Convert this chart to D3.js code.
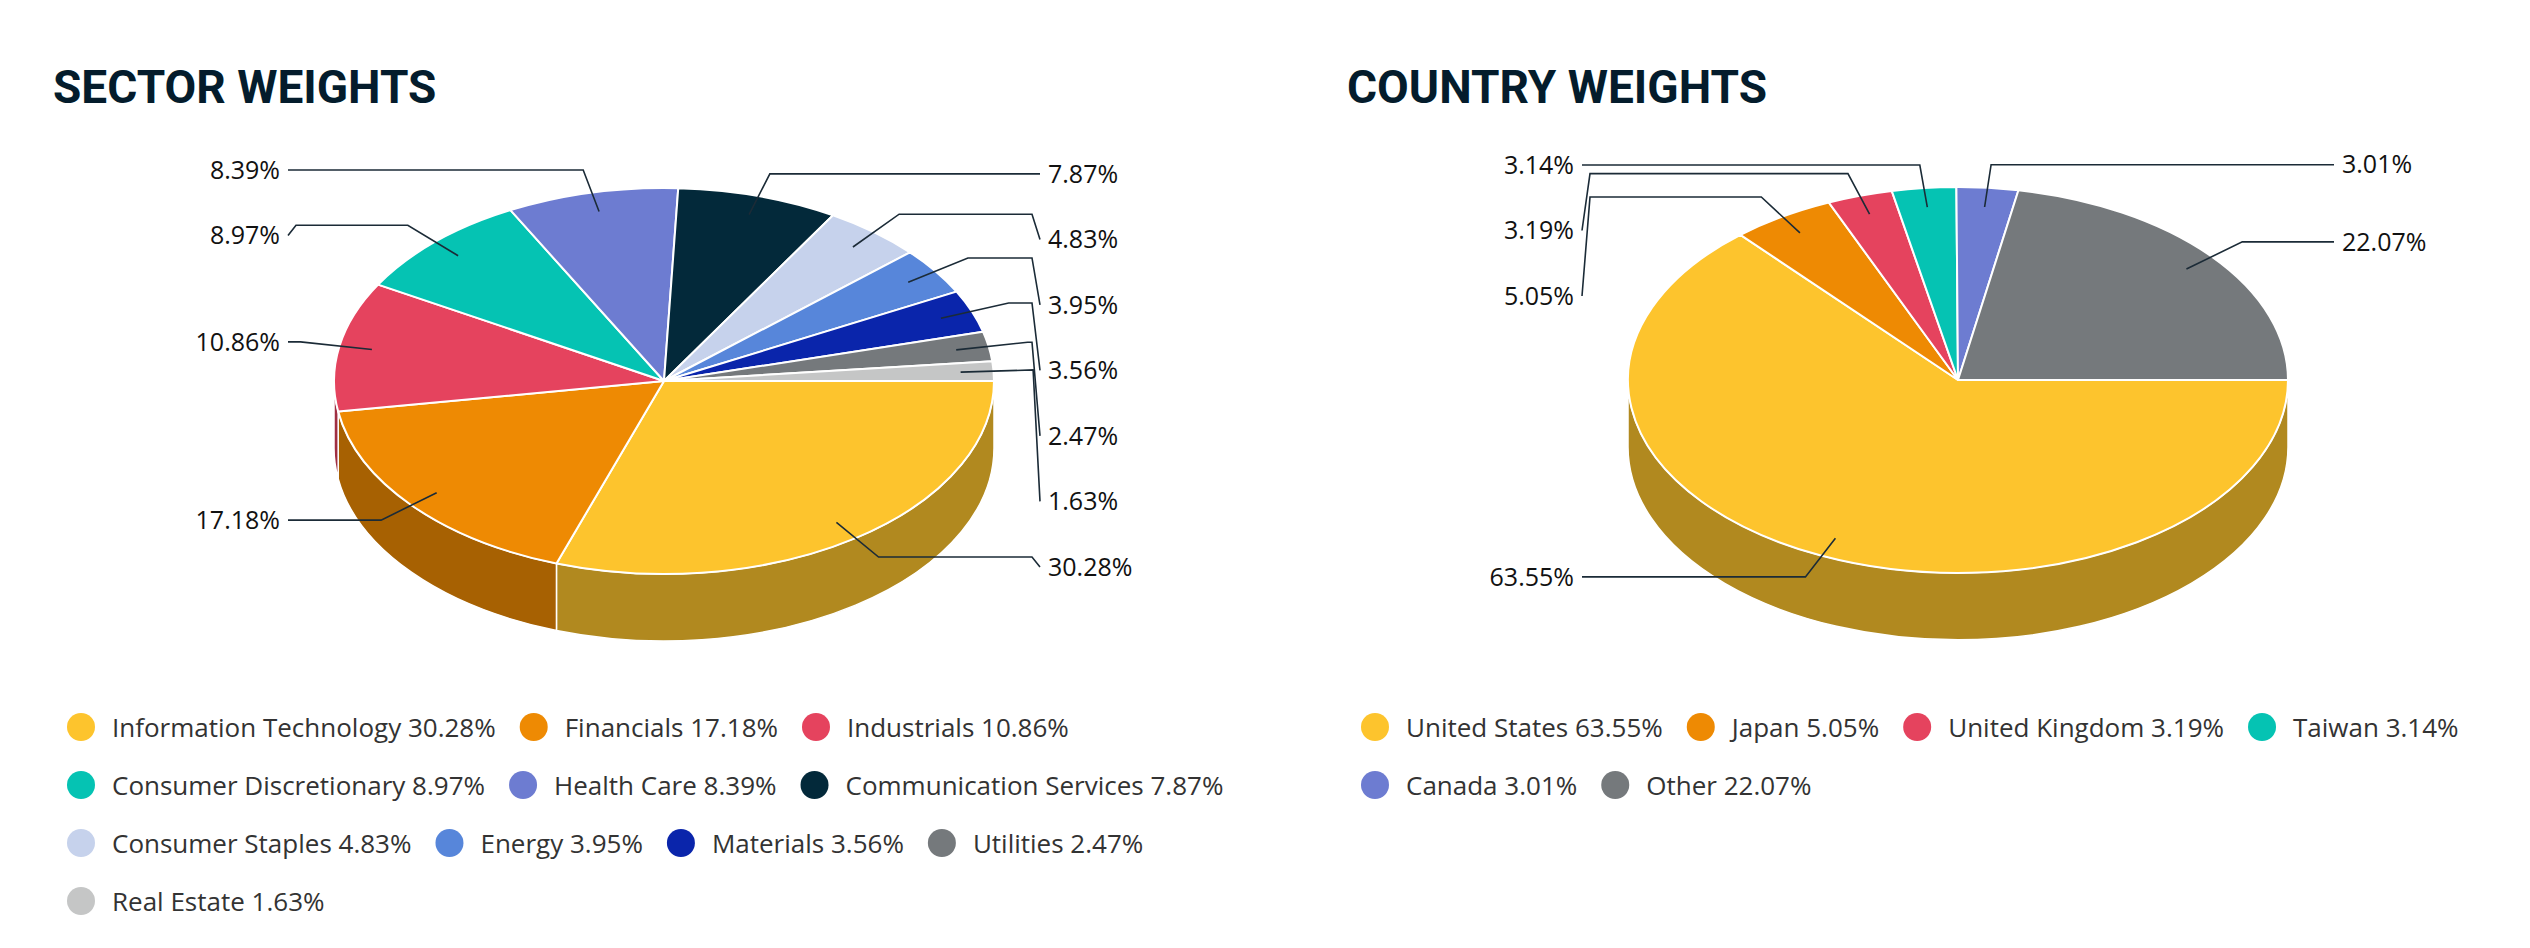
<!DOCTYPE html>
<html>
<head>
<meta charset="utf-8">
<script src="https://cdn.jsdelivr.net/npm/d3@7"></script>
<style>
  body { margin: 0; background: #fff; }
  text { font-family: "Open Sans", "Noto Sans", sans-serif; }
</style>
</head>
<body>
<div id="chart"></div>
<script>
// data
const SECTORS = ["Information Technology", "Financials", "Industrials", "Consumer Discretionary",
  "Health Care", "Communication Services", "Consumer Staples", "Energy", "Materials",
  "Utilities", "Real Estate"];
const SECTOR_WEIGHTS = [30.28, 17.18, 10.86, 8.97, 8.39, 7.87, 4.83, 3.95, 3.56, 2.47, 1.63];

const COUNTRIES = ["United States", "Japan", "United Kingdom", "Taiwan", "Canada", "Other"];
const COUNTRY_WEIGHTS = [63.55, 5.05, 3.19, 3.14, 3.01, 22.07];

// palette
const SECTOR_COLORS = ["#fdc42d", "#ee8a03", "#e5435e", "#05c3b3", "#6d7cd1", "#03293a",
  "#c6d2ec", "#5786da", "#0a25ab", "#75797c", "#c5c6c6"];
const COUNTRY_COLORS = ["#fdc42d", "#ee8a03", "#e5435e", "#05c3b3", "#6d7cd1", "#75797c"];

// frame
const WIDTH = 2530, HEIGHT = 948;
const RX = 330, RY = 193, DEPTH = 67;   // tilted pie: ellipse radii and wall depth
const LABEL_GAP = 65.5;                 // min vertical distance between stacked labels

const SVG = d3.select("#chart")
  .append("svg")
    .attr("width", WIDTH)
    .attr("height", HEIGHT);

SVG.append("rect").attr("width", WIDTH).attr("height", HEIGHT).attr("fill", "#fff");

// one tilted pie with labels and legend
function pie3d(cfg) {
  const g = SVG.append("g");
  const cx = cfg.cx, cy = cfg.cy;

  // angles clockwise from 12 o'clock, first slice starts at 3 o'clock
  const arcs = d3.pie()
    .sort(null)
    .startAngle(Math.PI / 2)
    .endAngle(Math.PI / 2 + 2 * Math.PI)
    .value(d => d.value)(cfg.names.map((n, i) => ({name: n, value: cfg.values[i], color: cfg.colors[i]})));

  const px = (a, f) => cx + f * RX * Math.sin(a);
  const py = (a, f) => cy - f * RY * Math.cos(a);

  // title
  g.append("text")
    .attr("x", cfg.titleX)
    .attr("y", 103)
    .style("font-family", "Roboto, sans-serif")
    .style("font-weight", 700)
    .style("font-size", "46px")
    .attr("fill", "#041c2c")
    .text(cfg.title);

  // outer walls (front half only)
  const FRONT_END = 3 * Math.PI / 2;
  arcs.filter(d => d.startAngle < FRONT_END).forEach(d => {
    const a0 = d.startAngle, a1 = Math.min(d.endAngle, FRONT_END);
    const large = (a1 - a0) > Math.PI ? 1 : 0;
    const p = `M${px(a0, 1)},${py(a0, 1)}` +
      `A${RX},${RY} 0 ${large} 1 ${px(a1, 1)},${py(a1, 1)}` +
      `L${px(a1, 1)},${py(a1, 1) + DEPTH}` +
      `A${RX},${RY} 0 ${large} 0 ${px(a0, 1)},${py(a0, 1) + DEPTH}Z`;
    g.append("path")
      .attr("d", p)
      .attr("fill", d3.color(d.data.color).darker(1))
      .attr("stroke", "#fff")
      .attr("stroke-width", 1.5)
      .attr("stroke-linejoin", "round");
  });

  // top faces
  g.selectAll(".slice")
    .data(arcs)
    .enter()
    .append("path")
      .attr("class", "slice")
      .attr("d", d => {
        const large = (d.endAngle - d.startAngle) > Math.PI ? 1 : 0;
        return `M${cx},${cy}L${px(d.startAngle, 1)},${py(d.startAngle, 1)}` +
          `A${RX},${RY} 0 ${large} 1 ${px(d.endAngle, 1)},${py(d.endAngle, 1)}Z`;
      })
      .attr("fill", d => d.data.color)
      .attr("stroke", "#fff")
      .attr("stroke-width", 2)
      .attr("stroke-linejoin", "round");

  // data labels
  const labels = arcs.map(d => {
    const mid = (d.startAngle + d.endAngle) / 2;
    return {
      text: d.data.value.toFixed(2) + "%",
      right: Math.sin(mid) >= 0,
      touch: [px(mid, 0.9), py(mid, 0.9)],
      brk: [px(mid, 1.12), py(mid, 1.12)],
      ny: py(mid, 1.12)
    };
  });

  // push overlapping labels downwards, per side
  [true, false].forEach(side => {
    const items = labels.filter(l => l.right === side).sort((a, b) => a.ny - b.ny);
    let prev = -Infinity;
    items.forEach(l => { l.ly = Math.max(l.ny, prev + LABEL_GAP); prev = l.ly; });
  });

  const line = d3.line();
  labels.forEach(l => {
    const s = l.right ? 1 : -1;
    const crook = cx + s * 368, end = cx + s * 376;
    const pts = [l.touch, l.brk];
    if (s * (crook - l.brk[0]) > 0) pts.push([crook, l.brk[1]]);
    pts.push([end, l.ly]);
    g.append("path")
      .attr("d", line(pts))
      .attr("fill", "none")
      .attr("stroke", "#1b2b37")
      .attr("stroke-width", 1.6);
    g.append("text")
      .attr("x", cx + s * 384)
      .attr("y", l.ly)
      .attr("dy", "0.35em")
      .attr("text-anchor", l.right ? "start" : "end")
      .style("font-size", "25px")
      .attr("fill", "#111")
      .text(l.text);
  });

  // legend, horizontal flow with wrapping
  let x = cfg.legendX, row = 0;
  arcs.forEach(d => {
    const item = g.append("g");
    const t = item.append("text")
      .attr("x", 31)
      .attr("y", 10)
      .style("font-size", "26px")
      .attr("fill", "#333")
      .text(d.data.name + " " + d.data.value.toFixed(2) + "%");
    const w = 31 + t.node().getComputedTextLength();
    if (x !== cfg.legendX && x + w > cfg.legendMax) { x = cfg.legendX; row += 1; }
    item.append("circle")
      .attr("r", 14)
      .attr("fill", d.data.color);
    item.attr("transform", `translate(${x},${727 + row * 58})`);
    x += w + 24 + 14;
  });
}

pie3d({title: "SECTOR WEIGHTS", titleX: 53, cx: 664, cy: 381,
  names: SECTORS, values: SECTOR_WEIGHTS, colors: SECTOR_COLORS, legendX: 81, legendMax: 1300});

pie3d({title: "COUNTRY WEIGHTS", titleX: 1347, cx: 1958, cy: 380,
  names: COUNTRIES, values: COUNTRY_WEIGHTS, colors: COUNTRY_COLORS, legendX: 1375, legendMax: 2515});
</script>
</body>
</html>
